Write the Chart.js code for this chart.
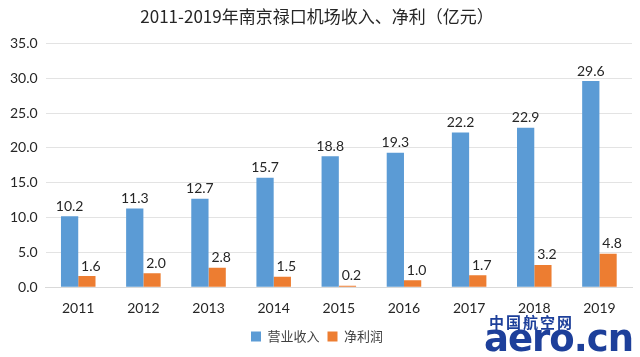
<!DOCTYPE html>
<html><head><meta charset="utf-8">
<script src="https://cdn.jsdelivr.net/npm/chart.js@4.4.0/dist/chart.umd.min.js"></script>
<style>
html,body{margin:0;padding:0;background:#fff;}
#wrap{position:relative;width:640px;height:357px;}
#wm1{position:absolute;left:489px;top:311px;font-family:"Noto Sans CJK SC";font-weight:bold;font-size:15px;color:#1d3f9a;letter-spacing:2px;}
#wm2{position:absolute;left:484px;top:319px;font-family:"DejaVu Sans";font-weight:bold;font-size:37px;color:#1d3f9a;letter-spacing:-1px;line-height:1.1;}
</style></head>
<body><div id="wrap"><canvas id="c" width="640" height="357"></canvas>
<div id="wm1">中国航空网</div><div id="wm2">aero.cn</div></div>
<script>
const categories = ['2011','2012','2013','2014','2015','2016','2017','2018','2019'];
const revenue = [10.2, 11.3, 12.7, 15.7, 18.8, 19.3, 22.2, 22.9, 29.6];
const profit = [1.6, 2.0, 2.8, 1.5, 0.2, 1.0, 1.7, 3.2, 4.8];
const seriesNames = ['营业收入', '净利润'];
const titleText = '2011-2019年南京禄口机场收入、净利（亿元）';

const numFont = '"Lato", "Liberation Sans", sans-serif';

const labelPlugin = {
  id: 'vlabels',
  afterDatasetsDraw(chart) {
    const ctx = chart.ctx;
    ctx.save();
    ctx.font = '14px ' + numFont;
    ctx.fillStyle = '#262626';
    ctx.textAlign = 'center';
    ctx.textBaseline = 'bottom';
    chart.data.datasets.forEach((ds, i) => {
      const meta = chart.getDatasetMeta(i);
      meta.data.forEach((bar, j) => {
        const dx = i === 1 ? 4 : 0;
        ctx.fillText(ds.data[j].toFixed(1), bar.x + dx, bar.y - 3);
      });
    });
    ctx.restore();
  }
};

new Chart(document.getElementById('c'), {
  type: 'bar',
  data: {
    labels: categories,
    datasets: [
      {label: seriesNames[0], data: revenue, backgroundColor: '#5B9BD5', categoryPercentage: 0.53, barPercentage: 1.0},
      {label: seriesNames[1], data: profit, backgroundColor: '#ED7D31', categoryPercentage: 0.53, barPercentage: 1.0}
    ]
  },
  options: {
    responsive: false,
    animation: false,
    layout: {padding: {left: 2, right: 8, top: 0, bottom: 4}},
    plugins: {
      title: {display: true, text: titleText, color: '#262626',
        font: {family: '"Noto Sans CJK SC", sans-serif', size: 17, weight: 'normal'},
        padding: {top: 6, bottom: 17}},
      legend: {position: 'bottom',
        labels: {boxWidth: 10, boxHeight: 10, color: '#404040', padding: 8,
          font: {family: '"Noto Sans CJK SC", sans-serif', size: 13}}},
      tooltip: {enabled: false}
    },
    scales: {
      x: {
        grid: {display: false},
        border: {color: '#d9d9d9'},
        ticks: {color: '#262626', font: {family: numFont, size: 14}, padding: 5}
      },
      y: {
        min: 0, max: 35,
        ticks: {stepSize: 5, color: '#262626', padding: 8,
          font: {family: numFont, size: 14},
          callback: v => v.toFixed(1)},
        grid: {color: '#e3e3e3', drawTicks: false},
        border: {display: false}
      }
    }
  },
  plugins: [labelPlugin]
});
</script></body></html>
